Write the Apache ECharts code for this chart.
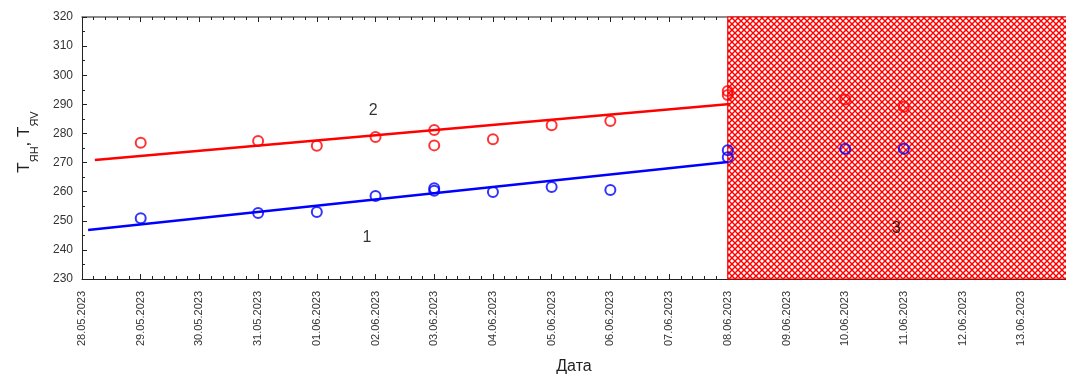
<!DOCTYPE html>
<html>
<head>
<meta charset="utf-8">
<script src="https://cdn.jsdelivr.net/npm/echarts@6/dist/echarts.min.js"></script>
<style>
  html, body { margin: 0; padding: 0; background: #fff; }
  #chart { width: 1066px; height: 378px; }
</style>
</head>
<body>
<div id="chart"></div>
<script>
// Daily tick labels of the date axis (one per day, starting at 28.05.2023)
const tickLabels = [
  '28.05.2023', '29.05.2023', '30.05.2023', '31.05.2023', '01.06.2023', '02.06.2023',
  '03.06.2023', '04.06.2023', '05.06.2023', '06.06.2023', '07.06.2023', '08.06.2023',
  '09.06.2023', '10.06.2023', '11.06.2023', '12.06.2023', '13.06.2023', '14.06.2023'
];

// Measured temperatures, curve 2 (red) and curve 1 (blue)
const redDates = ['29.05.2023', '31.05.2023', '01.06.2023', '02.06.2023', '03.06.2023', '03.06.2023',
  '04.06.2023', '05.06.2023', '06.06.2023', '08.06.2023', '08.06.2023', '10.06.2023', '11.06.2023'];
const redValues = [276.8, 277.4, 275.8, 278.8, 281.2, 275.9, 278.0, 282.8, 284.3, 294.6, 293.2, 291.7, 289.2];

const blueDates = ['29.05.2023', '31.05.2023', '01.06.2023', '02.06.2023', '03.06.2023', '03.06.2023',
  '04.06.2023', '05.06.2023', '06.06.2023', '08.06.2023', '08.06.2023', '10.06.2023', '11.06.2023'];
const blueValues = [250.9, 252.7, 253.0, 258.5, 261.2, 260.3, 259.9, 261.6, 260.6, 274.2, 271.8, 274.7, 274.7];

// Linear trend lines (endpoints)
const redFitDates = ['28.05.2023 05:15', '08.06.2023 01:00'];
const redFitValues = [270.9, 290.1];
const blueFitDates = ['28.05.2023 02:30', '08.06.2023 00:00'];
const blueFitValues = [246.8, 270.2];

// Forecast zone (hatched)
const zoneDates = ['08.06.2023', '14.06.2023'];
const zoneValues = [230, 320];

// Curve numbers written on the plot
const noteTexts = ['1', '2', '3'];
const noteDates = ['01.06.2023 20:30', '01.06.2023 23:00', '10.06.2023 21:00'];
const noteValues = [244.1, 287.7, 247.2];

// Axis ranges
const yMin = 230, yMax = 320, yStep = 10;

// dd.mm.yyyy [HH:MM] -> days since the first tick
const origin = Date.UTC(2023, 4, 28);
function dayOf(s) {
  const [d, t] = s.split(' ');
  const [dd, mm, yy] = d.split('.').map(Number);
  let ms = Date.UTC(yy, mm - 1, dd);
  if (t) {
    const [h, m] = t.split(':').map(Number);
    ms += (h * 60 + m) * 60000;
  }
  return (ms - origin) / 86400000;
}
const pairs = (ds, vs) => ds.map((d, i) => [dayOf(d), vs[i]]);

// Red 45-degree cross-hatch tile
function hatchTile() {
  const n = 6;
  const c = document.createElement('canvas');
  c.width = n; c.height = n;
  const g = c.getContext('2d');
  g.fillStyle = '#ffffff';
  g.fillRect(0, 0, n, n);
  g.strokeStyle = '#ff0000';
  g.lineWidth = 1.4;
  for (let k = -2 * n; k <= 2 * n; k += n) {
    g.beginPath(); g.moveTo(k - 1, -1); g.lineTo(k + n + 1, n + 1); g.stroke();
    g.beginPath(); g.moveTo(k - 1, n + 1); g.lineTo(k + n + 1, -1); g.stroke();
  }
  return c;
}

const font = 'Liberation Sans, Arial, sans-serif';
const xMax = tickLabels.length - 1;

const chart = echarts.init(document.getElementById('chart'), null, { renderer: 'canvas' });
chart.setOption({
  animation: false,
  backgroundColor: '#ffffff',
  grid: { left: 82, top: 17, right: -14, bottom: 99, containLabel: false, outerBoundsMode: 'none' },
  xAxis: [{
    type: 'value', min: 0, max: xMax, interval: 1,
    name: 'Дата', nameLocation: 'middle', nameGap: 80,
    nameTextStyle: { fontFamily: font, fontSize: 16, color: '#222', padding: [0, 14, 0, 0] },
    axisLine: { lineStyle: { color: '#222', width: 1 } },
    axisTick: { inside: true, length: 5, lineStyle: { color: '#222' } },
    minorTick: { show: true, splitNumber: 5, length: 3, lineStyle: { color: '#222' } },
    splitLine: { show: false },
    axisLabel: {
      rotate: 90, margin: 12, fontFamily: font, fontSize: 11, color: '#333',
      formatter: v => tickLabels[Math.round(v)] || ''
    }
  }, {
    type: 'value', position: 'top', min: 0, max: xMax, interval: 1,
    axisLine: { lineStyle: { color: '#666', width: 1.5 } },
    axisTick: { inside: true, length: 5, lineStyle: { color: '#222' } },
    minorTick: { show: true, splitNumber: 5, length: 3, lineStyle: { color: '#222' } },
    splitLine: { show: false },
    axisLabel: { show: false }
  }],
  yAxis: {
    type: 'value', min: yMin, max: yMax, interval: yStep,
    name: '{t|T}{s|ЯН}{t|, T}{s|ЯV}', nameLocation: 'middle', nameGap: 42, nameRotate: 90,
    nameTextStyle: {
      padding: [0, 0, 0, 12],
      rich: {
        t: { fontFamily: font, fontSize: 17, color: '#222', lineHeight: 24, verticalAlign: 'top' },
        s: { fontFamily: font, fontSize: 11, color: '#222', lineHeight: 8, verticalAlign: 'bottom' }
      }
    },
    axisLine: { show: true, lineStyle: { color: '#222', width: 1 } },
    axisTick: { show: true, inside: true, length: 5, lineStyle: { color: '#222' } },
    minorTick: { show: true, splitNumber: 2, length: 3, lineStyle: { color: '#222' } },
    splitLine: { show: false },
    axisLabel: { margin: 9, fontFamily: font, fontSize: 12, color: '#333' }
  },
  series: [
    {
      name: 'zone', type: 'line', data: [], silent: true,
      markArea: {
        silent: true,
        itemStyle: {
          color: { image: hatchTile(), repeat: 'repeat' },
          borderColor: '#ff0000', borderWidth: 1.2
        },
        data: [[
          { xAxis: dayOf(zoneDates[0]), yAxis: zoneValues[0] },
          { xAxis: dayOf(zoneDates[1]), yAxis: zoneValues[1] }
        ]]
      }
    },
    {
      name: 'fit2', type: 'line', data: pairs(redFitDates, redFitValues),
      symbol: 'none', lineStyle: { color: '#ff0000', width: 2.5 }, z: 3
    },
    {
      name: 'fit1', type: 'line', data: pairs(blueFitDates, blueFitValues),
      symbol: 'none', lineStyle: { color: '#0000ff', width: 2.5 }, z: 3
    },
    {
      name: 'T2', type: 'scatter', data: pairs(redDates, redValues),
      symbol: 'circle', symbolSize: 10,
      itemStyle: { color: 'rgba(0,0,0,0)', borderColor: '#ff0000', borderWidth: 2 }, z: 4
    },
    {
      name: 'T1', type: 'scatter', data: pairs(blueDates, blueValues),
      symbol: 'circle', symbolSize: 10,
      itemStyle: { color: 'rgba(0,0,0,0)', borderColor: '#0000ff', borderWidth: 2 }, z: 4
    },
    {
      name: 'notes', type: 'scatter', symbolSize: 0, z: 5,
      data: noteTexts.map((t, i) => ({ value: [dayOf(noteDates[i]), noteValues[i]], name: t })),
      label: {
        show: true, position: 'inside', formatter: p => p.name,
        fontFamily: font, fontSize: 16, color: '#000', textBorderWidth: 0
      }
    }
  ]
});
</script>
</body>
</html>
